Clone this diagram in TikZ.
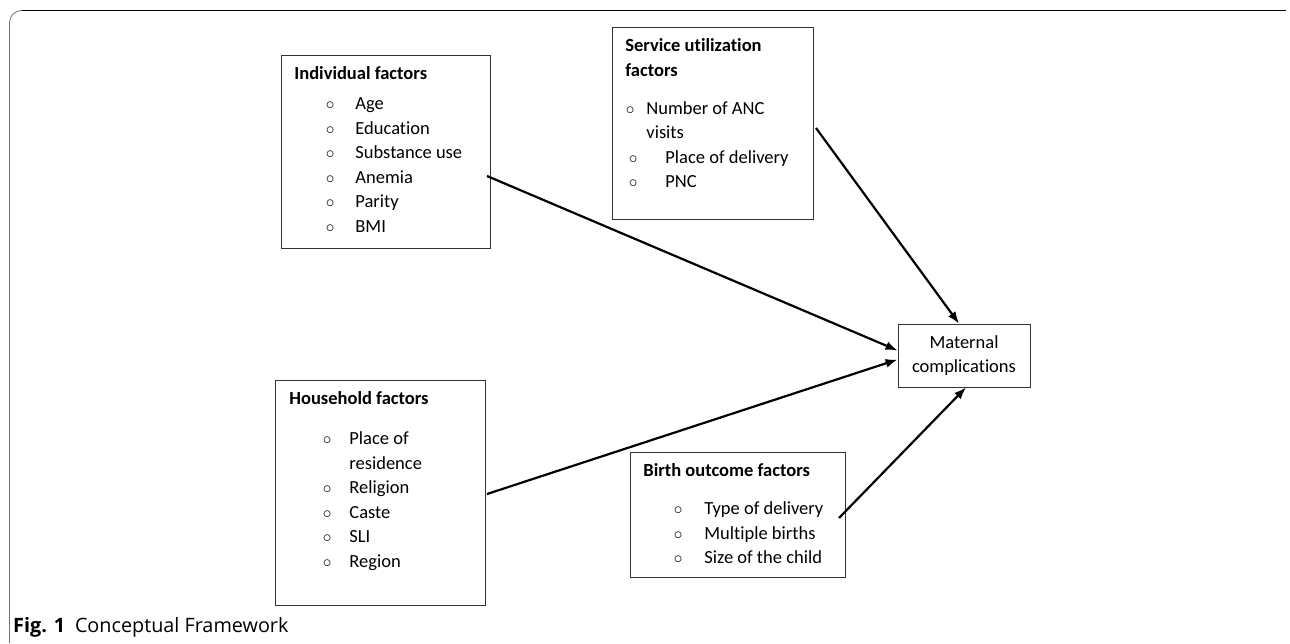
\documentclass[tikz,border=0pt]{standalone}
\usepackage{fontspec}
\setmainfont{Carlito}[Ligatures={NoCommon}]
\newfontfamily\capfont{Open Sans}
\usetikzlibrary{arrows.meta}
\setlength\parindent{0pt}

% box body: width, height, lines
\newcommand{\fbody}[3]{\parbox[c][#2][t]{#1}{\fontsize{18.5}{24.6}\selectfont\rule{0pt}{24pt}#3}}
% bullet line: bullet indent, bullet-to-text, text
\newcommand{\itm}[3]{\hspace*{#1}\makebox[#2][l]{$\circ$}#3}

\begin{document}
\begin{tikzpicture}[x=1pt, y=-1pt,
                    factor/.style={draw=black!80, line width=0.8pt, inner sep=0pt, anchor=north west},
                    outcome/.style={draw=black!80, line width=0.8pt, align=center, minimum width=132pt,
                                    minimum height=63pt, font=\fontsize{18.5}{24.6}\selectfont},
                    link/.style={-{Latex[length=12pt,width=9pt]}, line width=2.2pt}]
  \useasboundingbox (0,0) rectangle (1290,643);

  % frame and caption
  \draw[black!55, line width=0.8pt, rounded corners=12pt] (9.5,643) -- (9.5,10.5) -- (40,10.5);
  \draw[line width=1pt] (22,10.5) -- (1286,10.5);
  \node[anchor=base west, inner sep=0pt, font=\capfont\fontsize{19.8}{23}\selectfont] (cap) at (13,632)
    {\textbf{Fig. 1}\hspace{0.5em}Conceptual Framework};

  % factor boxes
  \node[factor] (ind) at (281,55) {\fbody{209pt}{193pt}{%
    \hspace*{13pt}\textbf{Individual factors}\\[5.4pt]
    \itm{44.4pt}{29.6pt}{Age}\\
    \itm{44.4pt}{29.6pt}{Education}\\
    \itm{44.4pt}{29.6pt}{Substance use}\\
    \itm{44.4pt}{29.6pt}{Anemia}\\
    \itm{44.4pt}{29.6pt}{Parity}\\
    \itm{44.4pt}{29.6pt}{BMI}}};
  \node[factor] (svc) at (612,27) {\fbody{201pt}{192pt}{%
    \hspace*{13pt}\textbf{Service utilization}\\
    \hspace*{13pt}\textbf{factors}\\[13.4pt]
    \itm{13.4pt}{20.6pt}{Number of ANC}\\
    \hspace*{34pt}visits\\
    \itm{16.4pt}{36.6pt}{Place of delivery}\\
    \itm{16.4pt}{36.6pt}{PNC}}};
  \node[factor] (hh) at (275,380) {\fbody{210pt}{225pt}{%
    \hspace*{14pt}\textbf{Household factors}\\[15.4pt]
    \itm{47.4pt}{26.6pt}{Place of}\\
    \hspace*{74pt}residence\\
    \itm{47.4pt}{26.6pt}{Religion}\\
    \itm{47.4pt}{26.6pt}{Caste}\\
    \itm{47.4pt}{26.6pt}{SLI}\\
    \itm{47.4pt}{26.6pt}{Region}}};
  \node[factor] (brt) at (630,452) {\fbody{215pt}{125pt}{%
    \hspace*{13pt}\textbf{Birth outcome factors}\\[13.4pt]
    \itm{43.4pt}{30.6pt}{Type of delivery}\\
    \itm{43.4pt}{30.6pt}{Multiple births}\\
    \itm{43.4pt}{30.6pt}{Size of the child}}};

  \node[outcome] (mat) at (964,355.5) {Maternal\\complications};

  % arrow tails
  \coordinate (indA) at (487,176);
  \coordinate (hhA)  at (487,494);
  \coordinate (svcA) at (816,128);
  \coordinate (brtA) at (839,518);

  \draw[link] (indA) -- ([yshift=5pt]mat.west);
  \draw[link] (hhA)  -- ([yshift=-4pt]mat.west);
  \draw[link] (svcA) -- ([xshift=-5pt]mat.north);
  \draw[link] (brtA) -- ([xshift=2pt]mat.south);
\end{tikzpicture}
\end{document}
